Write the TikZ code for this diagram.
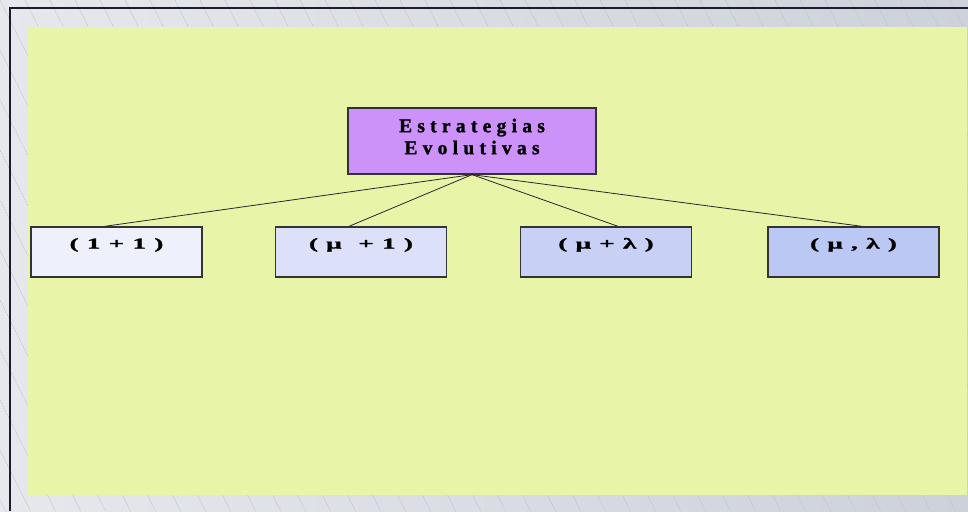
\documentclass[tikz,border=0pt]{standalone}
\usepackage{fontspec}
\setmainfont{Liberation Serif}
\newfontfamily\boxfont[LetterSpace=27,FakeBold=1.3]{Liberation Serif}
\newfontfamily\lowfont[LetterSpace=6,FakeBold=1.3]{Liberation Serif}
\usetikzlibrary{calc}
\definecolor{bgL}{HTML}{E6E8EC}
\definecolor{bgR}{HTML}{CDD1D9}
\definecolor{hatch}{HTML}{BFC2CA}
\definecolor{frame}{HTML}{1C1C30}
\definecolor{panel}{HTML}{E8F5A9}
\definecolor{topfill}{HTML}{CC92FA}
\definecolor{fillA}{HTML}{EEF0FC}
\definecolor{fillB}{HTML}{DCE0F9}
\definecolor{fillC}{HTML}{C9D0F5}
\definecolor{fillD}{HTML}{BCC8F4}
\definecolor{edge}{HTML}{333333}
\newcommand{\lowlbl}[1]{\raisebox{3.5pt}[0pt][0pt]{\scalebox{1.8}[1]{#1}}}
\newcommand{\toplbl}[1]{\raisebox{-3pt}[0pt][0pt]{\begin{tabular}{@{}c@{}}#1\end{tabular}}}
\tikzset{
  boxstyle/.style={draw=edge, line width=1.3pt, inner sep=0pt, minimum height=50pt, minimum width=171pt},
  topstyle/.style={draw=edge, line width=1.3pt, fill=topfill, inner sep=0pt, minimum height=66pt, minimum width=248pt, font=\fontsize{19.5}{22}\bfseries\boxfont},
  lowtext/.style={font=\fontsize{15}{17}\bfseries\lowfont},
  link/.style={draw=black!85, line width=0.8pt},
}
\begin{document}
\begin{tikzpicture}[x=1pt,y=-1pt]
\useasboundingbox (0,0) rectangle (968,511);
\shade[left color=bgL, right color=bgR] (0,0) rectangle (968,511);
\begin{scope}
\clip (0,0) rectangle (968,511);
\foreach \i in {-300,-275,...,975}
  \draw[hatch, line width=0.6pt, dash pattern=on 2pt off 1pt] (\i,0) -- ({\i+255.5},511);
\end{scope}
\draw[frame, line width=2pt] (10,511) -- (10,8) -- (968,8);
\fill[panel] (28,27) rectangle (967,495);
\node[topstyle] (top) at (472,141) {\toplbl{Estrategias\\Evolutivas}};
\node[boxstyle, fill=fillA, lowtext] (b1) at (116.5,252) {\lowlbl{( 1 + 1 )}};
\node[boxstyle, fill=fillB, lowtext] (b2) at (361,252) {\lowlbl{( μ \ + 1 )}};
\node[boxstyle, fill=fillC, lowtext] (b3) at (606,252) {\lowlbl{( μ + λ )}};
\node[boxstyle, fill=fillD, lowtext] (b4) at (853.5,252) {\lowlbl{( μ , λ )}};
\path[link] (top.south) -- ($(b1.north west)!0.43!(b1.north east)$);
\path[link] (top.south) -- ($(b2.north west)!0.43!(b2.north east)$);
\path[link] (top.south) -- ($(b3.north west)!0.57!(b3.north east)$);
\path[link] (top.south) -- ($(b4.north west)!0.55!(b4.north east)$);
\end{tikzpicture}
\end{document}
